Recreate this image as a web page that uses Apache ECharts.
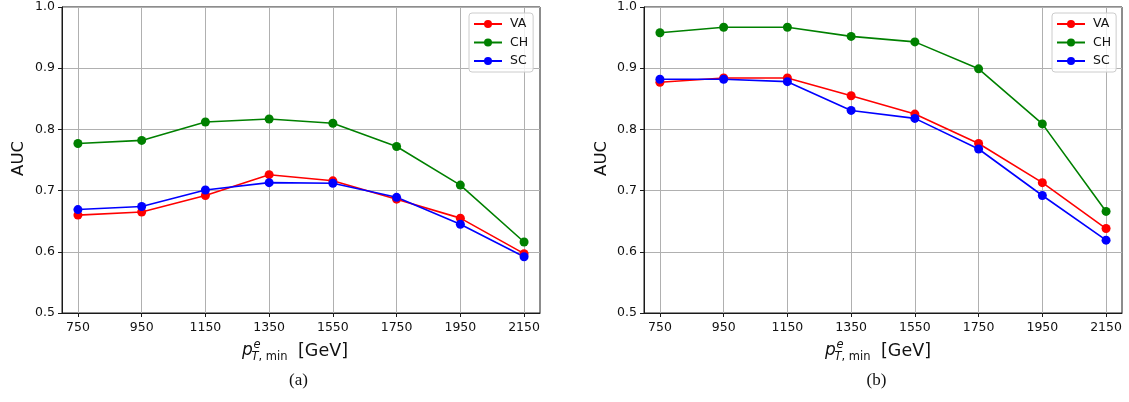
<!DOCTYPE html>
<html>
<head>
<meta charset="utf-8">
<script src="https://cdn.jsdelivr.net/npm/echarts@6/dist/echarts.min.js"></script>
<style>
html,body{margin:0;padding:0;background:#fff;}
#c{width:1129px;height:402px;}
</style>
</head>
<body>
<div id="c"></div>
<script>
// x positions (GeV)
const categories = [750, 950, 1150, 1350, 1550, 1750, 1950, 2150];
const seriesNames = ['VA', 'CH', 'SC'];
// panel (a)
const vaA = [0.660, 0.665, 0.692, 0.726, 0.716, 0.686, 0.655, 0.597];
const chA = [0.777, 0.782, 0.812, 0.817, 0.810, 0.772, 0.709, 0.616];
const scA = [0.669, 0.674, 0.701, 0.713, 0.712, 0.689, 0.645, 0.592];
// panel (b)
const vaB = [0.877, 0.884, 0.884, 0.855, 0.825, 0.777, 0.713, 0.638];
const chB = [0.958, 0.967, 0.967, 0.952, 0.943, 0.899, 0.809, 0.666];
const scB = [0.882, 0.882, 0.878, 0.831, 0.818, 0.768, 0.692, 0.619];
const panelCaptions = ['(a)', '(b)'];

const colors = {VA: '#ff0000', CH: '#008000', SC: '#0000ff'};
const FONT = "'DejaVu Sans', sans-serif";
const AX = '#1a1a1a';
const GRID = '#b0b0b0';

const grids = [
  {left: 62, top: 7, width: 478, height: 306, show: true, borderColor: AX, borderWidth: 1},
  {left: 644, top: 7, width: 478, height: 306, show: true, borderColor: AX, borderWidth: 1}
];

function xAxisFor(i) {
  return {
    type: 'value', gridIndex: i, min: 700, max: 2200,
    axisLine: {show: true, lineStyle: {color: AX, width: 1}},
    axisTick: {show: true, inside: false, length: 4, lineStyle: {color: AX}, customValues: categories},
    axisLabel: {customValues: categories, margin: 8, color: '#111', fontSize: 12.5, fontFamily: FONT,
      formatter: v => String(v)},
    splitLine: {show: true, lineStyle: {color: GRID, width: 1}}
  };
}
function yAxisFor(i) {
  return {
    type: 'value', gridIndex: i, min: 0.5, max: 1.0, interval: 0.1,
    axisLine: {show: true, lineStyle: {color: AX, width: 1}},
    axisTick: {show: true, inside: false, length: 4, lineStyle: {color: AX}},
    axisLabel: {margin: 7, color: '#111', fontSize: 12.5, fontFamily: FONT,
      formatter: v => v.toFixed(1)},
    splitLine: {show: true, lineStyle: {color: GRID, width: 1}}
  };
}

function mk(name, vals, gi) {
  return {
    name: name, type: 'line', xAxisIndex: gi, yAxisIndex: gi,
    data: categories.map((c, k) => [c, vals[k]]),
    symbol: 'circle', symbolSize: 9, showSymbol: true,
    lineStyle: {color: colors[name], width: 1.6},
    itemStyle: {color: colors[name]},
    emphasis: {disabled: true},
    animation: false
  };
}

function legendFor(left) {
  return {
    data: seriesNames, orient: 'vertical', left: left, top: 13,
    itemWidth: 28, itemHeight: 10, itemGap: 4.5,
    padding: [4, 5, 4, 4],
    borderColor: '#cccccc', borderWidth: 1, borderRadius: 3, backgroundColor: 'rgba(255,255,255,0.8)',
    textStyle: {fontFamily: FONT, fontSize: 12.5, color: '#111', lineHeight: 14, padding: [0, 0, 0, 3]},
    selectedMode: false
  };
}

function labelGraphics(dx, capDx, idx) {
  return [
    {type: 'text', left: 10 + dx, top: 141, rotation: Math.PI / 2,
     style: {text: 'AUC', font: "16.5px 'DejaVu Sans'", fill: '#111'}},
    {type: 'text', x: 242 + dx, y: 351, style: {text: 'p', font: "italic 17px 'DejaVu Sans'", fill: '#111', textVerticalAlign: 'middle'}},
    {type: 'text', x: 253.5 + dx, y: 345.5, style: {text: 'e', font: "italic 11.5px 'DejaVu Sans'", fill: '#111', textVerticalAlign: 'middle'}},
    {type: 'text', x: 251.5 + dx, y: 357, style: {
      text: '{i|T}{n|, min}', fill: '#111', textVerticalAlign: 'middle',
      rich: {i: {fontFamily: FONT, fontStyle: 'italic', fontSize: 11.5, fill: '#111'},
             n: {fontFamily: FONT, fontSize: 11.5, fill: '#111'}}}},
    {type: 'text', x: 298 + dx, y: 351, style: {text: '[GeV]', font: "17.5px 'DejaVu Sans'", fill: '#111', textVerticalAlign: 'middle'}},
    {type: 'text', x: 298.5 + capDx, y: 381, style: {text: panelCaptions[idx], font: "17px 'Liberation Serif'", fill: '#111', textAlign: 'center', textVerticalAlign: 'middle'}}
  ];
}

const chart = echarts.init(document.getElementById('c'), null, {renderer: 'canvas'});
chart.setOption({
  animation: false,
  backgroundColor: '#ffffff',
  grid: grids,
  xAxis: [xAxisFor(0), xAxisFor(1)],
  yAxis: [yAxisFor(0), yAxisFor(1)],
  legend: [legendFor(469), legendFor(1052)],
  series: [
    mk('VA', vaA, 0), mk('CH', chA, 0), mk('SC', scA, 0),
    mk('VA', vaB, 1), mk('CH', chB, 1), mk('SC', scB, 1)
  ],
  graphic: [].concat(labelGraphics(0, 0, 0), labelGraphics(583, 578, 1))
});
</script>
</body>
</html>
